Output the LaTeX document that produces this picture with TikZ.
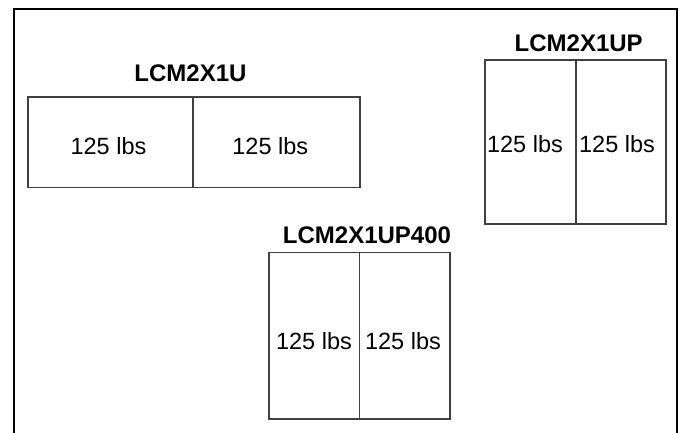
\documentclass[tikz,border=0pt]{standalone}
\usepackage{fontspec}
\setmainfont{Liberation Sans}
\begin{document}
\begin{tikzpicture}[x=1pt,y=-1pt,
  cell/.style={draw=black!75, line width=1.6pt, inner sep=0pt, outer sep=0pt},
  lbl/.style={inner sep=0pt, anchor=base, font=\fontsize{23.5}{27}\selectfont},
  ttl/.style={inner sep=0pt, anchor=base, font=\bfseries\fontsize{24}{28}\selectfont}]
\useasboundingbox (0,0) rectangle (680,433);
% outer frame (open at bottom)
\coordinate (fbl) at (14,433);
\coordinate (ftl) at (14,9);
\coordinate (ftr) at (677,9);
\coordinate (fbr) at (677,433);
\draw[line width=2.7pt, line join=miter] (fbl) -- (ftl) -- (ftr) -- (fbr);
% LCM2X1U
\node[cell, minimum width=165pt, minimum height=90pt] (aL) at (110.5,142.3) {};
\node[cell, minimum width=167pt, minimum height=90pt] (aR) at (276.5,142.3) {};
\node[ttl] (aT) at (190.5,82) {LCM2X1U};
\node[lbl] (aLt) at (108.5,154.8) {125 lbs};
\node[lbl] (aRt) at (270.3,154.8) {125 lbs};
% LCM2X1UP
\node[cell, minimum width=91pt, minimum height=164pt] (bL) at (530.5,142) {};
\node[cell, minimum width=90pt, minimum height=164pt] (bR) at (621,142) {};
\node[ttl] (bT) at (578.7,52) {LCM2X1UP};
\node[lbl] (bLt) at (525,152.5) {125 lbs};
\node[lbl] (bRt) at (617,152.5) {125 lbs};
% LCM2X1UP400
\node[cell, minimum width=90.3pt, minimum height=166.7pt] (cL) at (314.2,335.7) {};
\node[cell, minimum width=90.7pt, minimum height=166.7pt] (cR) at (404.7,335.7) {};
\node[ttl] (cT) at (367,243) {LCM2X1UP400};
\node[lbl] (cLt) at (314,349.8) {125 lbs};
\node[lbl] (cRt) at (403,349.8) {125 lbs};
\end{tikzpicture}
\end{document}
